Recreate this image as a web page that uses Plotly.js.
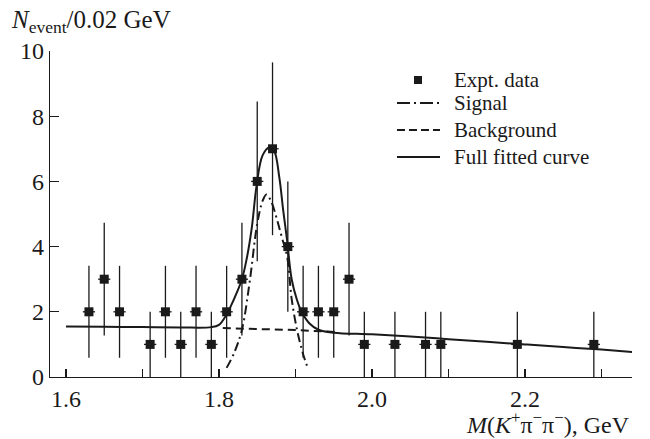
<!DOCTYPE html>
<html><head><meta charset="utf-8">
<script src="https://cdn.plot.ly/plotly-3.0.1.min.js"></script>
<style>body{margin:0;background:#fff}#chart{width:650px;height:439px}</style>
</head><body><div id="chart"></div>
<script>
// Experimental data (bin centres, counts, Poisson errors)
const massBins = [1.63,1.65,1.67,1.71,1.73,1.75,1.77,1.79,1.81,1.83,1.85,1.87,1.89,1.91,1.93,1.95,1.97,1.99,2.03,2.07,2.09,2.19,2.29];
const counts   = [2,3,2,1,2,1,2,1,2,3,6,7,4,2,2,2,3,1,1,1,1,1,1];
const countErr = [1.41,1.73,1.41,1,1.41,1,1.41,1,1.41,1.73,2.45,2.65,2,1.41,1.41,1.41,1.73,1,1,1,1,1,1];
const binHalfWidth = 0.008;

// Signal (dash-dot)
const signalX = [1.810,1.820,1.830,1.840,1.850,1.857,1.862,1.868,1.875,1.882,1.889,1.895,1.902,1.910,1.915];
const signalY = [0.28,0.75,1.45,2.9,4.7,5.4,5.6,5.4,4.9,4.3,3.7,2.4,1.45,0.7,0.35];

// Background (dashed)
const backgroundX = [1.805,1.85,1.90,1.955];
const backgroundY = [1.50,1.47,1.44,1.38];

// Full fitted curve (solid)
const fitX = [1.60,1.65,1.70,1.75,1.79,1.80,1.808,1.815,1.823,1.83,1.836,1.843,1.849,1.857,1.866,1.872,1.879,1.884,1.889,1.895,1.902,1.908,1.918,1.93,1.95,2.00,2.05,2.10,2.15,2.20,2.25,2.30,2.34];
const fitY = [1.55,1.54,1.53,1.52,1.53,1.6,1.84,2.15,2.57,3.0,3.6,4.6,5.85,6.8,7.05,6.95,6.1,5.1,4.2,3.0,2.36,2.0,1.65,1.45,1.36,1.31,1.24,1.16,1.08,1.0,0.92,0.84,0.77];

// Axis ticks
const xTickVals = [1.6,1.7,1.8,1.9,2.0,2.1,2.2,2.3];
const xTickText = ['1.6','','1.8','','2.0','','2.2',''];
const yTickVals = [0,2,4,6,8,10];
const yTickText = ['0','2','4','6','8','10'];

// Legend entries
const legendLabels = ['Expt. data', 'Signal', 'Background', 'Full fitted curve'];

const serif = 'Liberation Serif, Times New Roman, serif';
const ink = '#1a1a1a';
const dashDot = '9px,4px,2px,4px';
const dashed = '8px,5px';

const traces = [
  {x: massBins, y: counts, type: 'scatter', mode: 'markers', name: legendLabels[0],
   marker: {symbol: 'square', size: 9, color: ink},
   error_y: {type: 'data', array: countErr, visible: true, color: ink, thickness: 1.3, width: 0},
   error_x: {type: 'constant', value: binHalfWidth, visible: true, color: ink, thickness: 1.3, width: 0}},
  {x: signalX, y: signalY, type: 'scatter', mode: 'lines', name: legendLabels[1],
   line: {color: ink, width: 2, dash: dashDot, shape: 'spline'}},
  {x: backgroundX, y: backgroundY, type: 'scatter', mode: 'lines', name: legendLabels[2],
   line: {color: ink, width: 2, dash: dashed}},
  {x: fitX, y: fitY, type: 'scatter', mode: 'lines', name: legendLabels[3],
   line: {color: ink, width: 2, shape: 'spline'}}
];

// Hand-placed legend (paper coordinates) to match the original's compact spacing
const legRowY = [0.911, 0.8405, 0.7577, 0.6748];
const legX0 = 0.5962, legX1 = 0.6701, legTextX = 0.6907;
const shapes = [
  {type: 'rect', xref: 'paper', yref: 'paper', x0: 0.6254, x1: 0.6392, y0: legRowY[0] - 0.0123, y1: legRowY[0] + 0.0123,
   fillcolor: ink, line: {width: 0}},
  {type: 'line', xref: 'paper', yref: 'paper', x0: legX0, x1: legX1, y0: legRowY[1], y1: legRowY[1],
   line: {color: ink, width: 2, dash: '13px,4px,2px,4px'}},
  {type: 'line', xref: 'paper', yref: 'paper', x0: legX0, x1: legX1, y0: legRowY[2], y1: legRowY[2],
   line: {color: ink, width: 2, dash: '8px,4px'}},
  {type: 'line', xref: 'paper', yref: 'paper', x0: legX0, x1: legX1, y0: legRowY[3], y1: legRowY[3],
   line: {color: ink, width: 2}}
];
const legendAnn = legendLabels.map((t, i) => ({
  text: t, xref: 'paper', yref: 'paper', x: legTextX, y: legRowY[i], xanchor: 'left', yanchor: 'middle',
  showarrow: false, font: {family: serif, size: 21, color: ink}
}));

const layout = {
  width: 650, height: 439,
  margin: {l: 50, r: 18, t: 51, b: 62},
  paper_bgcolor: '#fff', plot_bgcolor: '#fff',
  font: {family: serif, size: 24, color: ink},
  showlegend: false,
  xaxis: {range: [1.5791, 2.3399], showline: true, linecolor: ink, linewidth: 1.3, mirror: false,
          ticks: 'inside', ticklen: 8, tickwidth: 1.2, tickcolor: ink,
          tickvals: xTickVals, ticktext: xTickText, showgrid: false, zeroline: false,
          tickfont: {family: serif, size: 24, color: ink}},
  yaxis: {range: [0, 10], showline: true, linecolor: ink, linewidth: 1.3,
          ticks: 'inside', ticklen: 9, tickwidth: 1.2, tickcolor: ink,
          tickvals: yTickVals, ticktext: yTickText, showgrid: false, zeroline: false,
          tickfont: {family: serif, size: 24, color: ink}},
  shapes: shapes,
  annotations: [
    {text: '<i>N</i><sub>event</sub>/0.02 GeV', xref: 'paper', yref: 'paper', x: -0.07, y: 1.09,
     xanchor: 'left', yanchor: 'middle', showarrow: false, font: {family: serif, size: 25, color: ink}},
    {text: '<i>M</i>(<i>K</i><sup>+</sup>π<sup>−</sup>π<sup>−</sup>), GeV', xref: 'paper', yref: 'paper', x: 1.0, y: -0.14,
     xanchor: 'right', yanchor: 'middle', showarrow: false, font: {family: serif, size: 24, color: ink}}
  ].concat(legendAnn)
};

Plotly.newPlot('chart', traces, layout, {staticPlot: true, displayModeBar: false});
</script>
</body></html>
